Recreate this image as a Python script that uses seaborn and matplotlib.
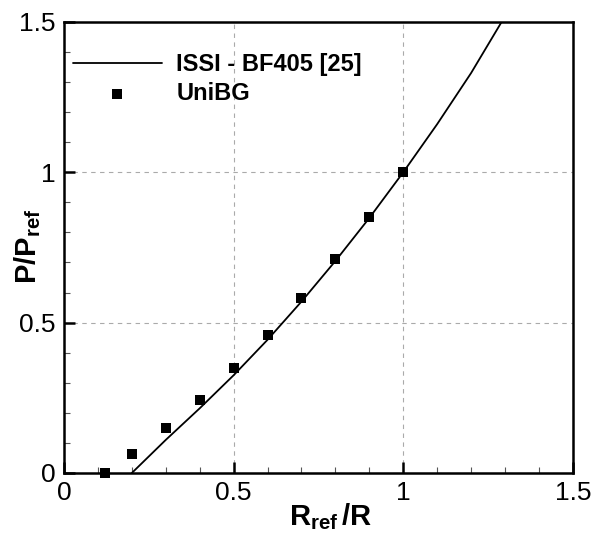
import matplotlib
matplotlib.use("Agg")
import matplotlib.pyplot as plt
import seaborn as sns
import pandas as pd
from matplotlib.ticker import MultipleLocator

# Data
line_x = [0.2, 0.3, 0.4, 0.5, 0.6, 0.7, 0.8, 0.9, 1.0, 1.1, 1.2, 1.29]
line_y = [0.0, 0.11, 0.215, 0.325, 0.443, 0.57, 0.705, 0.848, 1.0, 1.16, 1.33, 1.5]
pts_x = [0.12, 0.2, 0.3, 0.4, 0.5, 0.6, 0.7, 0.8, 0.9, 1.0]
pts_y = [0.0, 0.063, 0.15, 0.243, 0.349, 0.458, 0.581, 0.711, 0.85, 1.0]
ticks = [0, 0.5, 1, 1.5]
tick_labels = ["0", "0.5", "1", "1.5"]

sns.set_theme(style="white")
plt.rcParams['font.family'] = ['Liberation Sans', 'DejaVu Sans']
plt.rcParams['text.color'] = 'black'
plt.rcParams['axes.labelcolor'] = 'black'
plt.rcParams['mathtext.fontset'] = 'custom'
plt.rcParams['mathtext.rm'] = 'Liberation Sans'
plt.rcParams['mathtext.bf'] = 'Liberation Sans:bold'
plt.rcParams['mathtext.it'] = 'Liberation Sans:italic'

fig = plt.figure(figsize=(5.93, 5.35), dpi=100)
ax = fig.add_axes([0.108, 0.116, 0.858, 0.843])

df_line = pd.DataFrame({"x": line_x, "y": line_y})
df_pts = pd.DataFrame({"x": pts_x, "y": pts_y})

sns.lineplot(data=df_line, x="x", y="y", ax=ax, color="black", lw=1.3,
             label="ISSI - BF405 [25]", sort=False, zorder=3)
sns.scatterplot(data=df_pts, x="x", y="y", ax=ax, color="black", marker="s",
                s=52, edgecolor="black", linewidth=0, label="UniBG", zorder=4,
                clip_on=False)

ax.set_xlim(0, 1.5)
ax.set_ylim(0, 1.5)
ax.set_xticks(ticks)
ax.set_xticklabels(tick_labels)
ax.set_yticks(ticks)
ax.set_yticklabels(tick_labels)
ax.xaxis.set_minor_locator(MultipleLocator(0.1))
ax.yaxis.set_minor_locator(MultipleLocator(0.1))
ax.tick_params(which="major", direction="in", length=8, width=1.8,
               labelsize=19, colors="black", pad=6, bottom=True, left=True)
ax.tick_params(which="minor", direction="in", length=4, width=0.8,
               colors="#555555", bottom=True, left=True)
ax.grid(True, which="major", linestyle=(0, (4, 4)), color="#aaaaaa", lw=0.8)
for s in ax.spines.values():
    s.set_color("black")
    s.set_linewidth(1.8)

ax.set_xlabel(r"$\mathbf{R_{ref}\,/R}$", fontsize=21, color="black")
ax.set_ylabel(r"$\mathbf{P/P_{ref}}$", fontsize=21, color="black")
ax.xaxis.set_label_coords(0.523, -0.062)
ax.yaxis.set_label_coords(-0.042, 0.503)

leg = ax.legend(loc="upper left", bbox_to_anchor=(-0.025, 0.978), frameon=False,
                handlelength=3.8, handletextpad=0.6, labelspacing=0.25,
                labelcolor="black", prop={"weight": "bold", "size": 17})

fig.savefig("out.png", dpi=100)
